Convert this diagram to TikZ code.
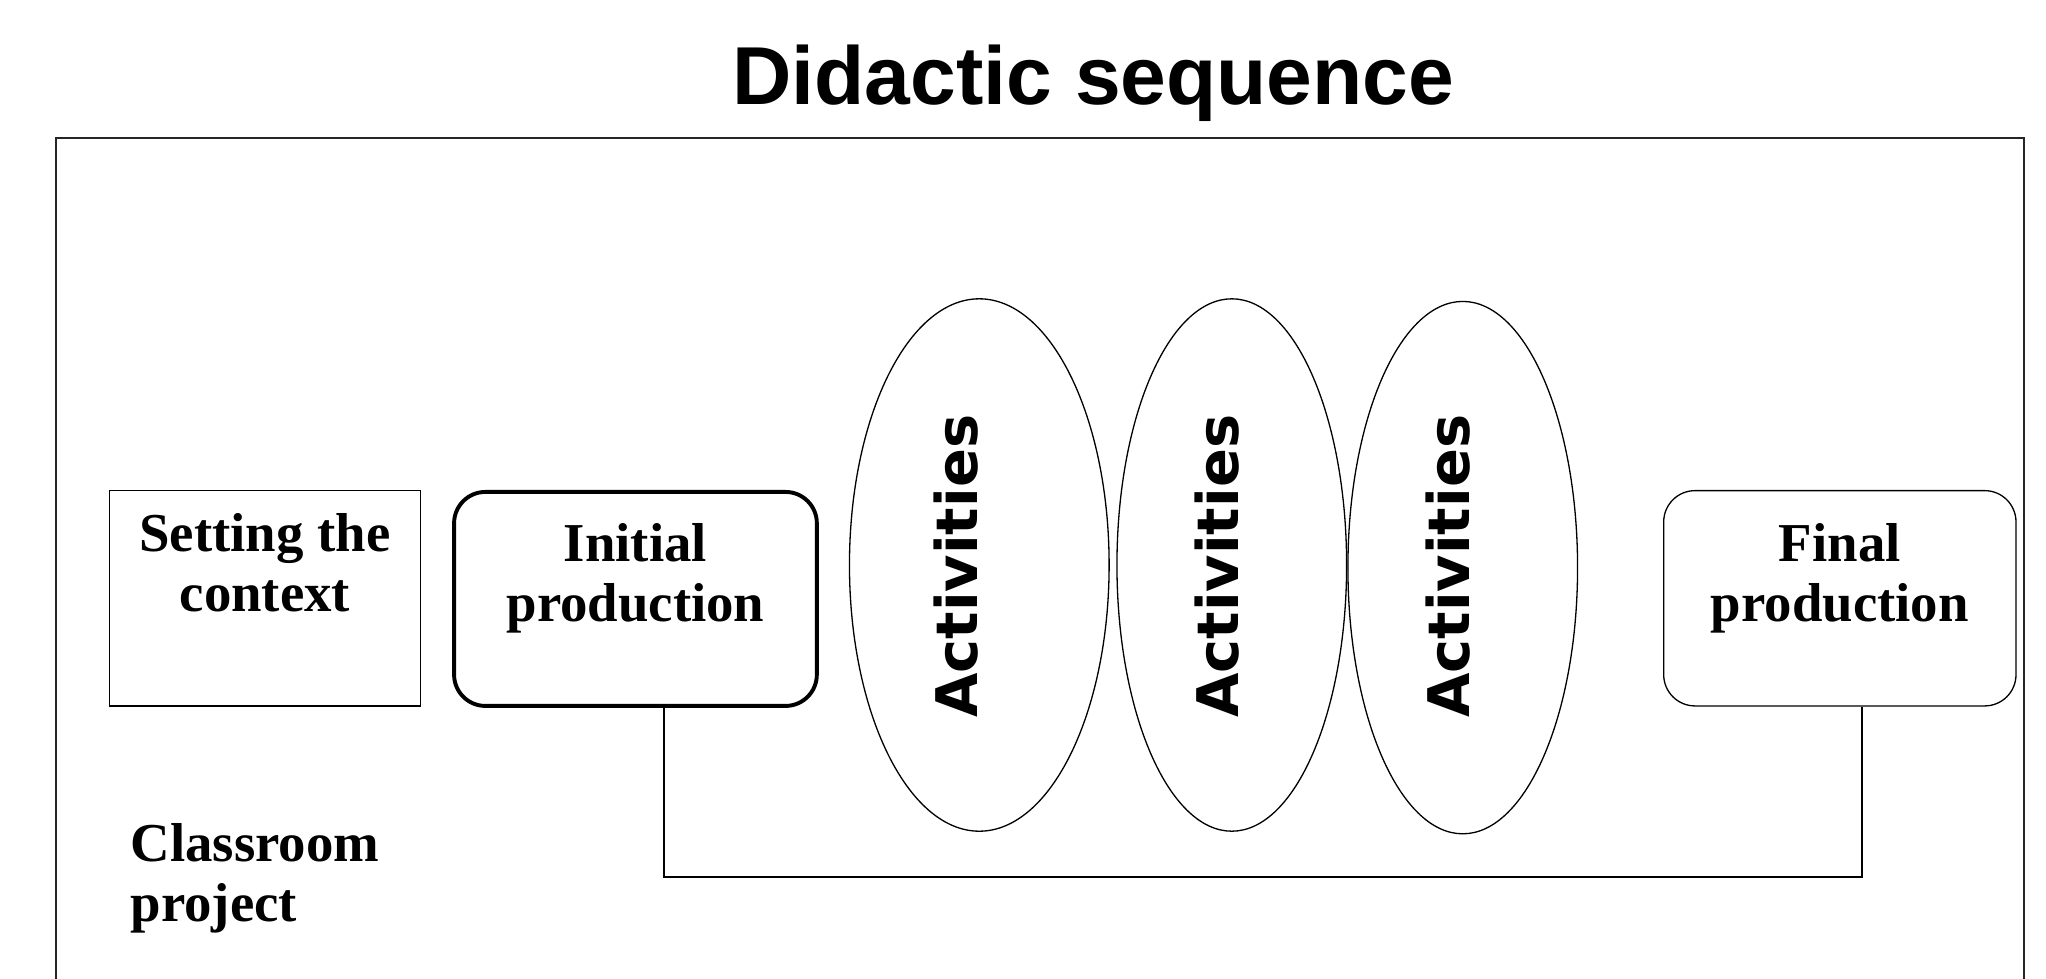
\documentclass[tikz,border=0pt]{standalone}
\usepackage{fontspec}
\setmainfont{Liberation Serif}
\newfontfamily\titlefont{Liberation Sans}
\newfontfamily\actfont{DejaVu Sans}
\usetikzlibrary{shapes.geometric}
\tikzset{
  frameline/.style={line width=1.3pt, draw=black!85},
  plainbox/.style={draw, line width=1pt, inner sep=0pt},
  thickbox/.style={draw, line width=3pt, rounded corners=24pt, inner sep=0pt},
  thinround/.style={draw, line width=1pt, rounded corners=24pt, inner sep=0pt},
  oval/.style={ellipse, draw, line width=1pt, inner sep=0pt},
  lbl/.style={font=\bfseries\fontsize{42}{46}\selectfont, align=center, inner sep=0pt},
  actlbl/.style={font=\actfont\bfseries\fontsize{44}{48}\selectfont, rotate=90, inner sep=0pt},
  conn/.style={line width=1.2pt}
}
\begin{document}
\begin{tikzpicture}[x=1pt,y=-1pt]
\useasboundingbox (0,0) rectangle (1568,750);
% title
\node[font=\titlefont\bfseries\fontsize{63}{70}\selectfont, anchor=base, inner sep=0pt] (title) at (838,80) {Didactic sequence};
% outer frame (open at the bottom edge)
\coordinate (fbl) at (43,752);
\coordinate (ftl) at (43,106);
\coordinate (ftr) at (1551,106);
\coordinate (fbr) at (1551,752);
\draw[frameline] (fbl) -- (ftl) -- (ftr) -- (fbr);
% boxes
\node[plainbox, minimum width=238pt, minimum height=165pt] (sc) at (203,458.5) {};
\node[lbl, anchor=north] (sctext) at (203,393) {Setting the\\context};
\node[thickbox, minimum width=278pt, minimum height=164pt] (ip) at (487,459) {};
\node[lbl, anchor=north] (iptext) at (487,401) {Initial\\production};
\node[thinround, minimum width=270pt, minimum height=165pt] (fp) at (1410,458.5) {};
\node[lbl, anchor=north] (fptext) at (1410,401) {Final\\production};
% ellipses
\node[oval, minimum width=199pt, minimum height=408pt] (e1) at (750.5,433) {};
\node[oval, minimum width=176pt, minimum height=408pt] (e2) at (944,433) {};
\node[oval, minimum width=176pt, minimum height=408pt] (e3) at (1121,435) {};
\node[actlbl] (a1) at (733,434) {Activities};
\node[actlbl] (a2) at (933,434) {Activities};
\node[actlbl] (a3) at (1110,434) {Activities};
% connector
\coordinate (c1) at (509,672);
\coordinate (c2) at (1427,672);
\draw[conn] (ip.south -| c1) -- (c1) -- (c2) -- (fp.south -| c2);
% classroom project
\node[lbl, align=left, anchor=north west] (cp) at (100,631) {Classroom\\project};
\end{tikzpicture}
\end{document}
